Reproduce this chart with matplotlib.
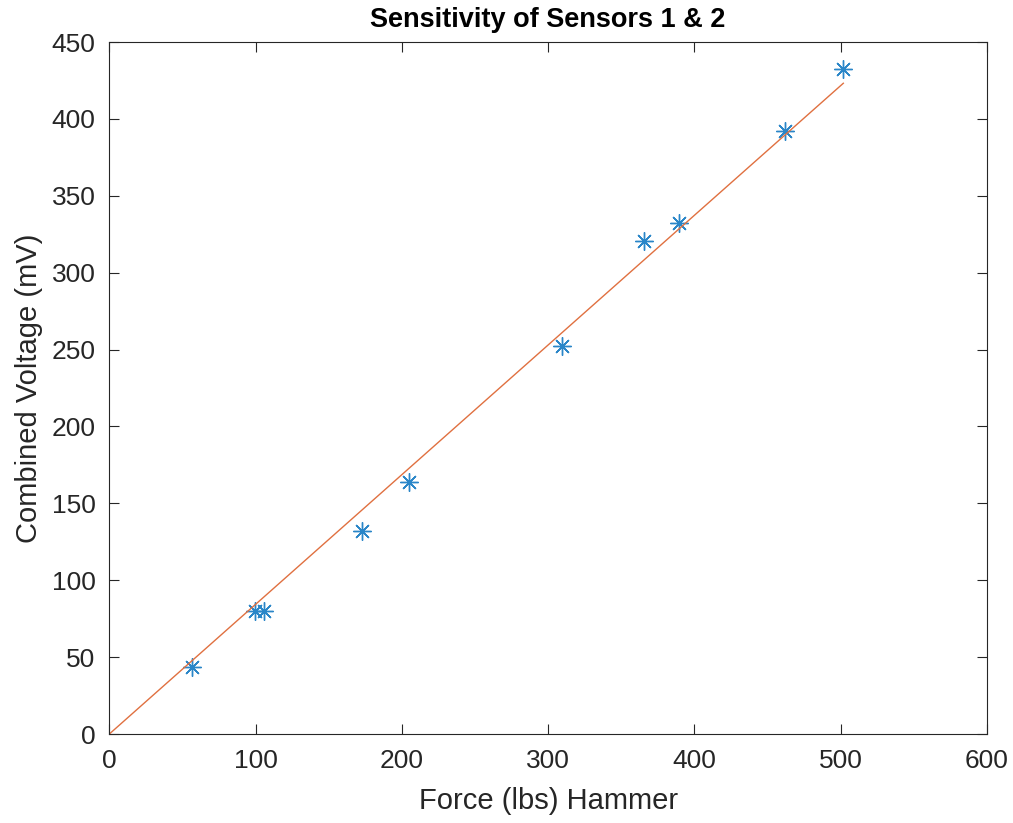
"""
Sensitivity of sensors 1 & 2: combined voltage vs hammer force
"""
import matplotlib
matplotlib.use('Agg')
import matplotlib.pyplot as plt

plt.rcParams['font.family'] = ['Liberation Sans', 'DejaVu Sans']

force = [56.3, 99.6, 106, 172.5, 204.9, 309.3, 365.5, 389.3, 461.9, 501.8]
voltage = [43.6, 79.8, 79.8, 131.9, 164, 252.2, 320.4, 332.5, 392.3, 432.5]

fit_x = [0, 501.8]
fit_y = [0, 423.2]

x_ticks = [0, 100, 200, 300, 400, 500, 600]
y_ticks = [0, 50, 100, 150, 200, 250, 300, 350, 400, 450]

fig = plt.figure(figsize=(10.13, 8.23), dpi=100)
ax = fig.add_axes([0.1079, 0.1081, 0.8664, 0.8408])

ax.plot(force, voltage, ls='none', marker=(8, 2, 0), ms=13, mew=1.0, color='#2a86c8')
ax.plot(fit_x, fit_y, color='#e07040', lw=1.0)

ax.set_xlim(0, 600)
ax.set_ylim(0, 450)
ax.set_xticks(x_ticks)
ax.set_yticks(y_ticks)
ax.tick_params(direction='in', length=7, width=0.8, colors='#262626',
               labelsize=19, top=True, right=True)
ax.tick_params(axis='x', pad=11)
ax.tick_params(axis='y', pad=10)
for s in ax.spines.values():
    s.set_color('#262626')
    s.set_linewidth(0.8)

ax.set_xlabel('Force (lbs) Hammer', fontsize=21, color='#262626', labelpad=10)
ax.set_ylabel('Combined Voltage (mV)', fontsize=21, color='#262626', labelpad=6)
ax.set_title('Sensitivity of Sensors 1 & 2', fontsize=19.5, fontweight='bold', pad=11)

fig.savefig('out.png', dpi=100)
